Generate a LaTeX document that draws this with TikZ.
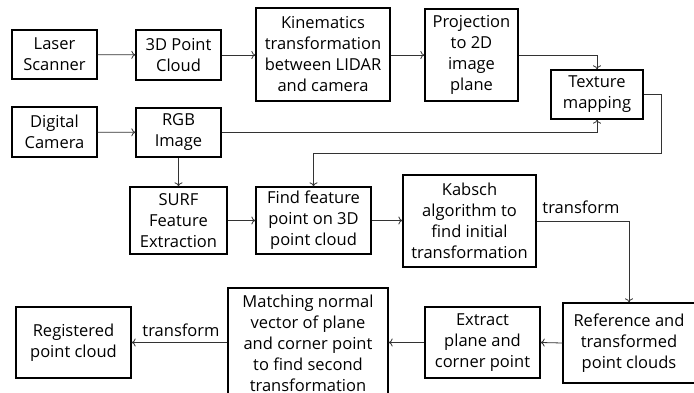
\documentclass[tikz,border=0pt]{standalone}
\usepackage{fontspec}
\setmainfont{Open Sans}
\usetikzlibrary{arrows.meta}

\begin{document}
\begin{tikzpicture}[x=1pt,y=-1pt,
  box/.style={draw,line width=1.3pt,align=center,inner sep=0pt,font=\fontsize{16.5}{21}\selectfont},
  lbl/.style={inner sep=0pt,font=\fontsize{16.5}{21}\selectfont},
  flow/.style={-{To[length=4pt,width=8pt]},line width=0.8pt,black!80}]
\useasboundingbox (0,0) rectangle (694,393);
\clip (0,0) rectangle (694,393);
% first row
\node[box,minimum width=85pt,minimum height=49pt] (laser) at (54.5,54.5) {Laser\\Scanner};
\node[box,minimum width=85pt,minimum height=50pt] (cloud) at (178.5,55) {3D Point\\Cloud};
\node[box,minimum width=134pt,minimum height=93pt] (kin) at (323,54.5) {Kinematics\\transformation\\between LIDAR\\and camera};
\node[box,minimum width=93pt,minimum height=92pt] (proj) at (471.5,55) {Projection\\to 2D\\image\\plane};
\node[box,minimum width=92pt,minimum height=49pt] (tex) at (597,94.5) {Texture\\mapping};
% second row
\node[box,minimum width=85pt,minimum height=50pt] (cam) at (54.5,132) {Digital\\Camera};
\node[box,minimum width=85pt,minimum height=49pt] (rgb) at (178.5,132.5) {RGB\\Image};
\node[box,minimum width=97pt,minimum height=67pt] (surf) at (178.5,220.5) {SURF\\Feature\\Extraction};
\node[box,minimum width=115pt,minimum height=67pt] (find) at (313.5,220.5) {Find feature\\point on 3D\\point cloud};
\node[box,minimum width=133pt,minimum height=92pt] (kabsch) at (469.5,221) {Kabsch\\algorithm to\\find initial\\transformation};
% last row
\node[box,minimum width=132pt,minimum height=80pt] (ref) at (629,343) {Reference and\\transformed\\point clouds};
\node[box,minimum width=115pt,minimum height=71pt] (extract) at (482.5,342.5) {Extract\\plane and\\corner point};
\node[box,minimum width=160pt,minimum height=110pt] (match) at (308,343) {Matching normal\\vector of plane\\and corner point\\to find second\\transformation};
\node[box,minimum width=115pt,minimum height=71pt] (reg) at (73.5,342.5) {Registered\\point cloud};
\node[lbl] (tr1) at (581,207) {transform};
\node[lbl] (tr2) at (181,330) {transform};
\coordinate (turn) at (661,153);

\draw[flow] (laser) -- (cloud);
\draw[flow] (cloud) -- (cloud -| kin.west);
\draw[flow] (kin.east |- proj) -- (proj);
\draw[flow] (proj.east) -| (tex.north);
\draw[flow] (cam) -- (rgb);
\draw[flow] (rgb.east) -| (tex.south);
\draw[flow] (tex.east) -| (turn) -| (find.north);
\draw[flow] (rgb) -- (surf);
\draw[flow] (surf) -- (find);
\draw[flow] (find.east) -- (find.east -| kabsch.west);
\draw[flow] (kabsch.east) -| (ref.north);
\draw[flow] (ref.west) -- (extract.east);
\draw[flow] (extract.west) -- (match.east |- extract);
\draw[flow] (match.west |- reg) -- (reg.east);
\end{tikzpicture}
\end{document}
